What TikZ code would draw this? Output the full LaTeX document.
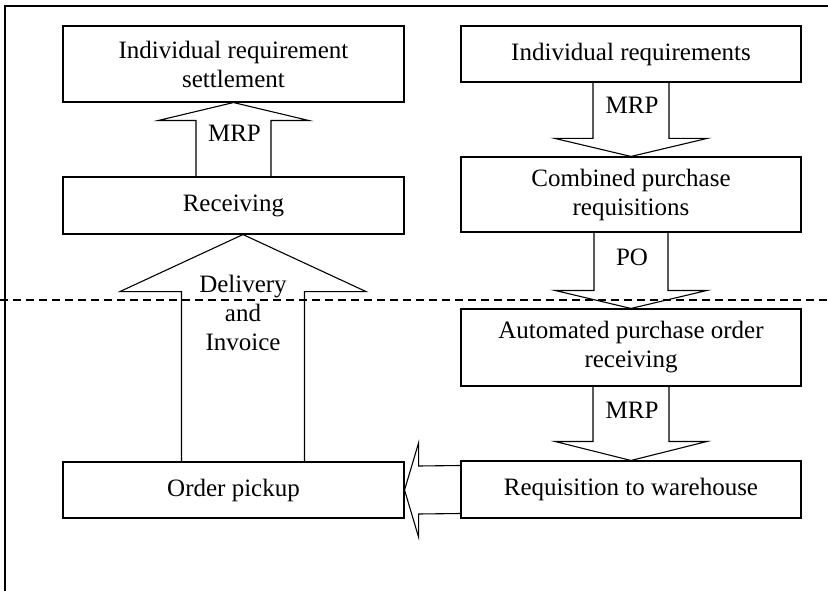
\documentclass[tikz,border=0pt]{standalone}
\usepackage{fontspec}
\setmainfont{Liberation Serif}
\usetikzlibrary{calc}
\newcommand\vblk[5]{% #1 base, #2 tip, #3 shaft half width, #4 head half width, #5 signed head length
  \draw[blk] ($#1+(-#3,0)$) -- ($#2+(-#3,#5)$) -- ($#2+(-#4,#5)$) -- #2 -- ($#2+(#4,#5)$) -- ($#2+(#3,#5)$) -- ($#1+(#3,0)$);}
\begin{document}
\begin{tikzpicture}[x=1pt,y=-1pt,
  box/.style={draw, line width=1.1pt, inner sep=0pt, align=center, font=\fontsize{25}{29}\selectfont},
  blk/.style={draw, line width=1.1pt, line join=miter},
  lbl/.style={inner sep=0pt, align=center, font=\fontsize{25}{29}\selectfont},
  frame/.style={draw, line width=1.1pt},
  divider/.style={draw, line width=1.1pt, dash pattern=on 8pt off 5pt}]
\useasboundingbox (0,0) rectangle (828,591);
% frame
\coordinate (fbl) at (5,591);
\coordinate (ftl) at (5,6);
\coordinate (ftr) at (828,6);
\draw[frame] (fbl) -- (ftl) -- (ftr);
% boxes
\node[box, minimum width=341pt, minimum height=76pt] (settle) at (233.5,64) {Individual requirement\\settlement};
\node[box, minimum width=340pt, minimum height=56pt] (indreq) at (631,54) {Individual requirements};
\node[box, minimum width=340pt, minimum height=75pt] (comb) at (631,194.5) {Combined purchase\\requisitions};
\node[box, minimum width=340pt, minimum height=77pt] (auto) at (631,347.5) {Automated purchase order\\receiving};
\node[box, minimum width=340pt, minimum height=57pt] (reqwh) at (631,489.5) {Requisition to warehouse};
\node[box, minimum width=341pt, minimum height=57pt] (recv) at (233.5,205.5) {Receiving};
\node[box, minimum width=341pt, minimum height=56pt] (pick) at (233.5,490) {Order pickup};
% block arrows
\vblk{(indreq.south)}{(comb.north)}{38}{76}{-18}
\vblk{(comb.south)}{(auto.north)}{37}{76}{-18}
\vblk{(auto.south)}{(reqwh.north)}{38}{76}{-19}
\vblk{(recv.north)}{(settle.south)}{37.5}{75.5}{18}
\vblk{($(pick.north)+(9.5,0)$)}{($(recv.south)+(9.5,0)$)}{61.5}{123}{57}
\draw[blk] ($(reqwh.west)+(0,-24)$) -- ($(pick.east)+(14,-24)$) -- ($(pick.east)+(14,-47)$) -- (pick.east) -- ($(pick.east)+(14,47)$) -- ($(pick.east)+(14,24)$) -- ($(reqwh.west)+(0,24)$);
% labels
\node[lbl] (mrp1) at (632,105) {MRP};
\node[lbl] (mrp2) at (234.5,133) {MRP};
\node[lbl] (po) at (632,257) {PO};
\node[lbl] (mrp3) at (632,410) {MRP};
\node[lbl] (deliv) at (243,313) {Delivery\\and\\Invoice};
% divider
\coordinate (dl) at (0,300);
\coordinate (dr) at (828,300);
\draw[divider] (dl) -- (dr);
\end{tikzpicture}
\end{document}
